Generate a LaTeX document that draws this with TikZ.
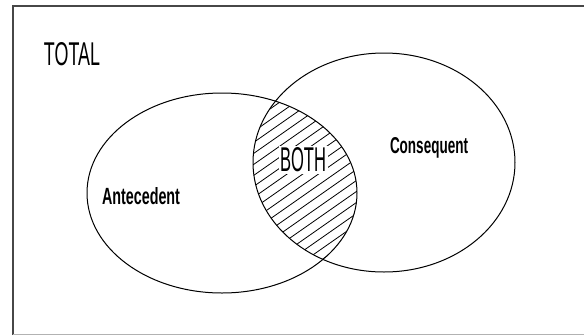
\documentclass[tikz,border=0pt]{standalone}
\usepackage{graphicx}
\usepackage{fontspec}
\setmainfont{Liberation Sans}
\usetikzlibrary{shapes.geometric}
\tikzset{
  setring/.style={ellipse, draw=black, line width=1pt, inner sep=0pt, outer sep=0pt},
  hatchline/.style={draw=black, line width=0.8pt},
  framedark/.style={draw=black!72, line width=2pt},
  framelight/.style={draw=black!30, line width=1pt},
  lbl/.style={inner sep=0pt, text=black},
}
\begin{document}
\begin{tikzpicture}[x=1pt,y=-1pt]
\useasboundingbox (0,0) rectangle (584,335);
% frame
\coordinate (fbl) at (13,335);
\coordinate (ftl) at (13,6);
\coordinate (ftr) at (584,6);
\coordinate (lbl1) at (13,334);
\coordinate (lbr) at (584,334);
\draw[framedark] (fbl) -- (ftl) -- (ftr);
\draw[framelight] (lbl1) -- (lbr);
% hatch in the intersection
\begin{scope}
  \clip (222,193) ellipse [x radius=135pt, y radius=100pt];
  \clip (384,162.5) ellipse [x radius=131pt, y radius=109.5pt];
  \foreach \c in {108,119,...,330} {
    \draw[hatchline] (240,\c) -- ++(140,-98);
  }
\end{scope}
% sets
\node[setring, minimum width=270pt, minimum height=200pt] (ante) at (222,193) {};
\node[setring, minimum width=262pt, minimum height=219pt] (cons) at (384,162.5) {};
% labels
\node[lbl] (total) at (72,54) {\resizebox{56pt}{23pt}{TOTAL}};
\node[lbl, fill=white, inner sep=1.5pt] (both) at (303,160) {\resizebox{46pt}{24pt}{BOTH}};
\node[lbl] (antel) at (141,196.5) {\resizebox{78pt}{17pt}{\bfseries Antecedent}};
\node[lbl, anchor=base] (consl) at (429,153) {\resizebox{78pt}{16pt}{\bfseries Consequent}};
\end{tikzpicture}
\end{document}
